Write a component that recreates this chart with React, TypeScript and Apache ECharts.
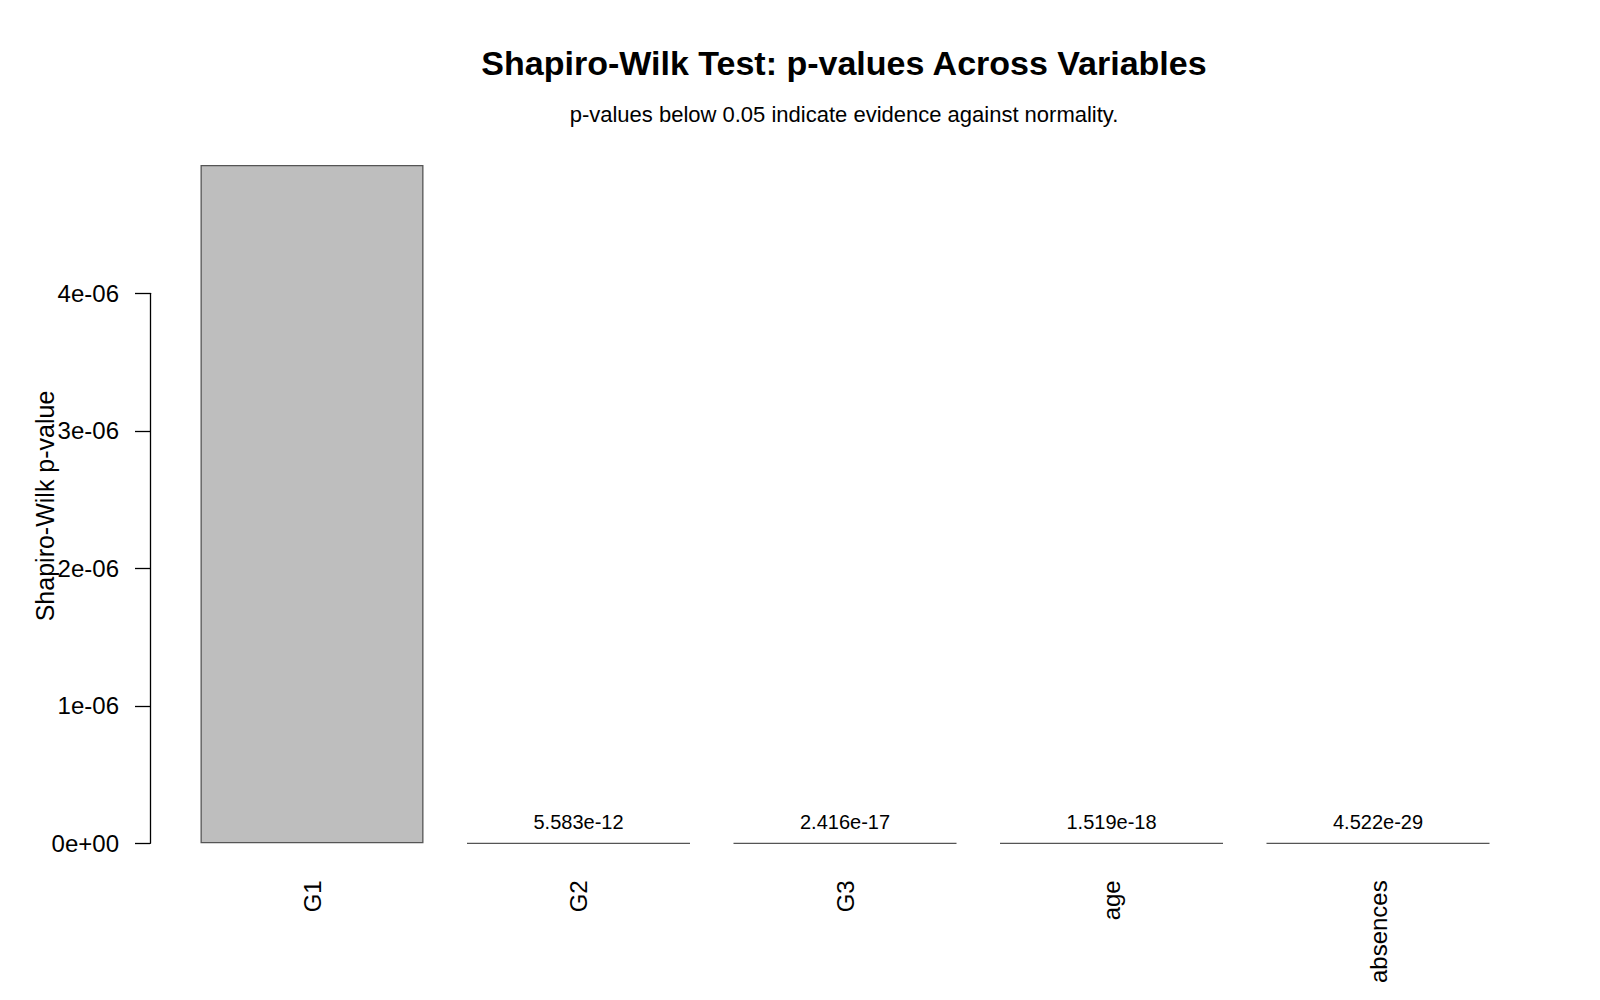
import React, { useEffect, useRef } from "react";
import * as echarts from "echarts";

const categories = ["G1", "G2", "G3", "age", "absences"];
const pValues = [4.933e-6, 5.583e-12, 2.416e-17, 1.519e-18, 4.522e-29];
const showValueLabel = [false, true, true, true, true];
const yTicks = { min: 0, max: 4e-6, interval: 1e-6 };

const titleText = "Shapiro-Wilk Test: p-values Across Variables";
const subtitleText = "p-values below 0.05 indicate evidence against normality.";
const yAxisName = "Shapiro-Wilk p-value";

const FONT = '"Liberation Sans", Arial, Helvetica, sans-serif';

function rExp(v: number, digits?: number): string {
  if (v === 0) return digits ? "0." + "0".repeat(digits) + "e+00" : "0e+00";
  const s = digits !== undefined ? v.toExponential(digits) : Number(v.toPrecision(10)).toExponential();
  const [m, e] = s.split("e");
  const sign = e[0] === "-" ? "-" : "+";
  const num = e.replace(/^[+-]/, "");
  return m + "e" + sign + (num.length < 2 ? "0" + num : num);
}

export default function App() {
  const ref = useRef<HTMLDivElement>(null);
  useEffect(() => {
    if (!ref.current) return;
    const chart = echarts.init(ref.current, undefined, { renderer: "svg" });
    chart.setOption({
      animation: false,
      backgroundColor: "#ffffff",
      textStyle: { fontFamily: FONT },
      grid: { left: 178.75, right: 88.75, top: 293.3, bottom: 156.7, containLabel: false },
      graphic: [
        {
          type: "text",
          x: 844,
          y: 63,
          style: {
            text: titleText,
            font: `bold 34px ${FONT}`,
            fill: "#000",
            textAlign: "center",
            textVerticalAlign: "middle",
          },
        },
        {
          type: "text",
          x: 844,
          y: 114,
          style: {
            text: subtitleText,
            font: `22px ${FONT}`,
            fill: "#000",
            textAlign: "center",
            textVerticalAlign: "middle",
          },
        },
        {
          type: "text",
          x: 45,
          y: 506,
          rotation: Math.PI / 2,
          style: {
            text: yAxisName,
            font: `25px ${FONT}`,
            fill: "#000",
            textAlign: "center",
            textVerticalAlign: "middle",
          },
        },
      ],
      xAxis: {
        type: "category",
        data: categories,
        axisLine: { show: false },
        axisTick: { show: false },
        axisLabel: {
          rotate: 90,
          margin: 37,
          fontSize: 24,
          color: "#000",
          fontFamily: FONT,
          interval: 0,
        },
      },
      yAxis: {
        type: "value",
        min: yTicks.min,
        max: yTicks.max,
        interval: yTicks.interval,
        offset: 28.75,
        splitLine: { show: false },
        axisLine: { show: true, lineStyle: { color: "#000", width: 1.3 } },
        axisTick: { show: true, length: 15, lineStyle: { color: "#000", width: 1.3 } },
        axisLabel: {
          margin: 31,
          fontSize: 24,
          color: "#000",
          fontFamily: FONT,
          formatter: (v: number) => rExp(v),
        },
      },
      series: [
        {
          type: "bar",
          clip: false,
          barWidth: 223,
          data: pValues.map((v, i) => ({
            value: v,
            label: { show: showValueLabel[i] },
          })),
          itemStyle: { color: "#BEBEBE", borderColor: "#555555", borderWidth: 1.3 },
          label: {
            show: true,
            position: "top",
            distance: 11,
            fontSize: 20,
            color: "#000",
            fontFamily: FONT,
            formatter: (p: any) => rExp(p.value, 3),
          },
        },
      ],
    });
    return () => chart.dispose();
  }, []);
  return (
    <div
      ref={ref}
      style={{ position: "fixed", left: 0, top: 0, width: 1600, height: 1000, background: "#fff" }}
    />
  );
}
